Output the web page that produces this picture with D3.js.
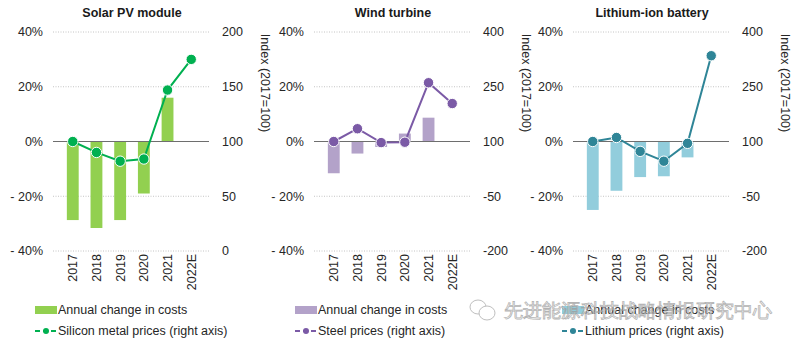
<!DOCTYPE html>
<html>
<head>
<meta charset="utf-8">
<script src="https://cdn.jsdelivr.net/npm/d3@7"></script>
<style>
  body { margin: 0; background: #fff; }
  text { font-family: "Liberation Sans", Arial, sans-serif; }
</style>
</head>
<body>
<svg id="chart" width="800" height="343"></svg>
<script>
// chart values
const years = ["2017", "2018", "2019", "2020", "2021", "2022E"];
const solarCost = [-28.7, -31.6, -28.7, -19, 16, null];
const siliconIndex = [100, 90, 82, 84, 147, 175];
const windCost = [-11.6, -4.4, -2, 2.9, 8.7, null];
const steelIndex = [100, 135, 97, 98, 261, 204];
const batteryCost = [-25, -18, -13, -12.7, -5.8, null];
const lithiumIndex = [100, 111, 73, 46, 95, 335];

const leftTicks = [-40, -20, 0, 20, 40];
const rightTicksSolar = [0, 50, 100, 150, 200];
const rightTicksOther = [-200, -50, 100, 250, 400];

const panels = [
    { title: "Solar PV module", cost: solarCost, index: siliconIndex, rTicks: rightTicksSolar,
      barColor: "#92d050", lineColor: "#00b050", lineName: "Silicon metal prices (right axis)", x0: 55 },
    { title: "Wind turbine", cost: windCost, index: steelIndex, rTicks: rightTicksOther,
      barColor: "#b3a2c9", lineColor: "#7b5aa6", lineName: "Steel prices (right axis)", x0: 316 },
    { title: "Lithium-ion battery", cost: batteryCost, index: lithiumIndex, rTicks: rightTicksOther,
      barColor: "#92cddc", lineColor: "#2f8597", lineName: "Lithium prices (right axis)", x0: 575 }
];

const plotW = 154, plotTop = 32, plotBottom = 251;
const svg = d3.select("#chart");
const fmtPct = d => (d < 0 ? "- " + Math.abs(d) : d) + "%";

panels.forEach((p, pi) => {
    let g = svg.append("g");
    let x = d3.scaleBand().domain(years).range([p.x0, p.x0 + plotW]).padding(0.5);
    let yL = d3.scaleLinear().domain([-40, 40]).range([plotBottom, plotTop]);
    let yR = d3.scaleLinear().domain(d3.extent(p.rTicks)).range([plotBottom, plotTop]);

    // gridlines
    g.selectAll(".grid").data(leftTicks.filter(d => d !== 0)).join("line")
        .attr("x1", p.x0 - 2).attr("x2", p.x0 + plotW)
        .attr("y1", d => yL(d)).attr("y2", d => yL(d))
        .attr("stroke", "#c4c4c4").attr("stroke-width", 1).attr("stroke-dasharray", "1,1.5");

    // left axis labels
    g.selectAll(".lt").data(leftTicks).join("text")
        .attr("x", p.x0 - 12).attr("y", d => yL(d)).attr("dy", "0.35em")
        .attr("text-anchor", "end").attr("font-size", 12.5).attr("fill", "#262626")
        .text(fmtPct);

    // right axis labels
    g.selectAll(".rt").data(p.rTicks).join("text")
        .attr("x", p.x0 + plotW + 13).attr("y", d => yR(d)).attr("dy", "0.35em")
        .attr("text-anchor", "start").attr("font-size", 12.5).attr("fill", "#262626")
        .text(d => d);

    // bars
    g.selectAll(".bar").data(years.map((y, i) => ({ y: y, v: p.cost[i] })).filter(d => d.v !== null)).join("rect")
        .attr("x", d => x(d.y)).attr("width", x.bandwidth())
        .attr("y", d => yL(Math.max(0, d.v))).attr("height", d => Math.abs(yL(d.v) - yL(0)))
        .attr("fill", p.barColor);

    // zero line
    g.append("line")
        .attr("x1", p.x0 - 2).attr("x2", p.x0 + plotW)
        .attr("y1", yL(0)).attr("y2", yL(0))
        .attr("stroke", "#6e6e6e").attr("stroke-width", 1.2);

    // index line
    let pts = years.map((y, i) => ({ y: y, v: p.index[i] }));
    let lineGen = d3.line().x(d => x(d.y) + x.bandwidth() / 2).y(d => yR(d.v));
    g.append("path").datum(pts)
        .attr("d", lineGen).attr("fill", "none")
        .attr("stroke", p.lineColor).attr("stroke-width", 2);
    g.selectAll(".dot").data(pts).join("circle")
        .attr("cx", d => x(d.y) + x.bandwidth() / 2).attr("cy", d => yR(d.v))
        .attr("r", 5.2).attr("fill", p.lineColor)
        .attr("stroke", "#fff").attr("stroke-width", 1);

    // x labels, rotated
    g.selectAll(".xt").data(years).join("text")
        .attr("transform", d => "translate(" + (x(d) + x.bandwidth() / 2 + 4.5) + "," + (plotBottom + 3) + ") rotate(-90)")
        .attr("text-anchor", "end").attr("font-size", 12.5).attr("fill", "#262626")
        .text(d => d);

    // title
    g.append("text")
        .attr("x", p.x0 + plotW / 2).attr("y", 17)
        .attr("text-anchor", "middle").attr("font-size", 12.5).attr("font-weight", "bold").attr("fill", "#1a1a1a")
        .text(p.title);

    // right axis title
    g.append("text")
        .attr("transform", "translate(" + (p.x0 + plotW + 52) + ",83) rotate(90)")
        .attr("text-anchor", "middle").attr("font-size", 12.5).attr("fill", "#262626")
        .text("Index (2017=100)");

    // legend
    let lx = [35, 295, 562][pi];
    let lg = svg.append("g");
    lg.append("rect").attr("x", lx).attr("y", 306).attr("width", 22).attr("height", 8).attr("fill", p.barColor);
    lg.append("text").attr("x", lx + 23).attr("y", 310).attr("dy", "0.35em")
        .attr("font-size", 12.5).attr("fill", "#262626").text("Annual change in costs");
    lg.append("line").attr("x1", lx).attr("x2", lx + 22).attr("y1", 331).attr("y2", 331)
        .attr("stroke", p.lineColor).attr("stroke-width", 2).attr("stroke-dasharray", "5,3");
    lg.append("circle").attr("cx", lx + 11).attr("cy", 331).attr("r", 3).attr("fill", p.lineColor);
    lg.append("text").attr("x", lx + 23).attr("y", 331).attr("dy", "0.35em")
        .attr("font-size", 12.5).attr("fill", "#262626").text(p.lineName);
});

// watermark
let wm = svg.append("g").attr("opacity", 0.75);
wm.append("ellipse").attr("cx", 478).attr("cy", 307).attr("rx", 8).attr("ry", 7)
    .attr("fill", "#fff").attr("stroke", "#aaa").attr("stroke-width", 1);
wm.append("ellipse").attr("cx", 487).attr("cy", 313).attr("rx", 8).attr("ry", 7)
    .attr("fill", "#fff").attr("stroke", "#aaa").attr("stroke-width", 1);
wm.append("text").attr("x", 504).attr("y", 310).attr("dy", "0.36em")
    .attr("font-family", "Noto Sans CJK SC").attr("font-size", 19)
    .attr("fill", "#fff").attr("stroke", "#9a9a9a").attr("stroke-width", 0.8)
    .attr("textLength", 268)
    .text("先进能源科技战略情报研究中心");
</script>
</body>
</html>
